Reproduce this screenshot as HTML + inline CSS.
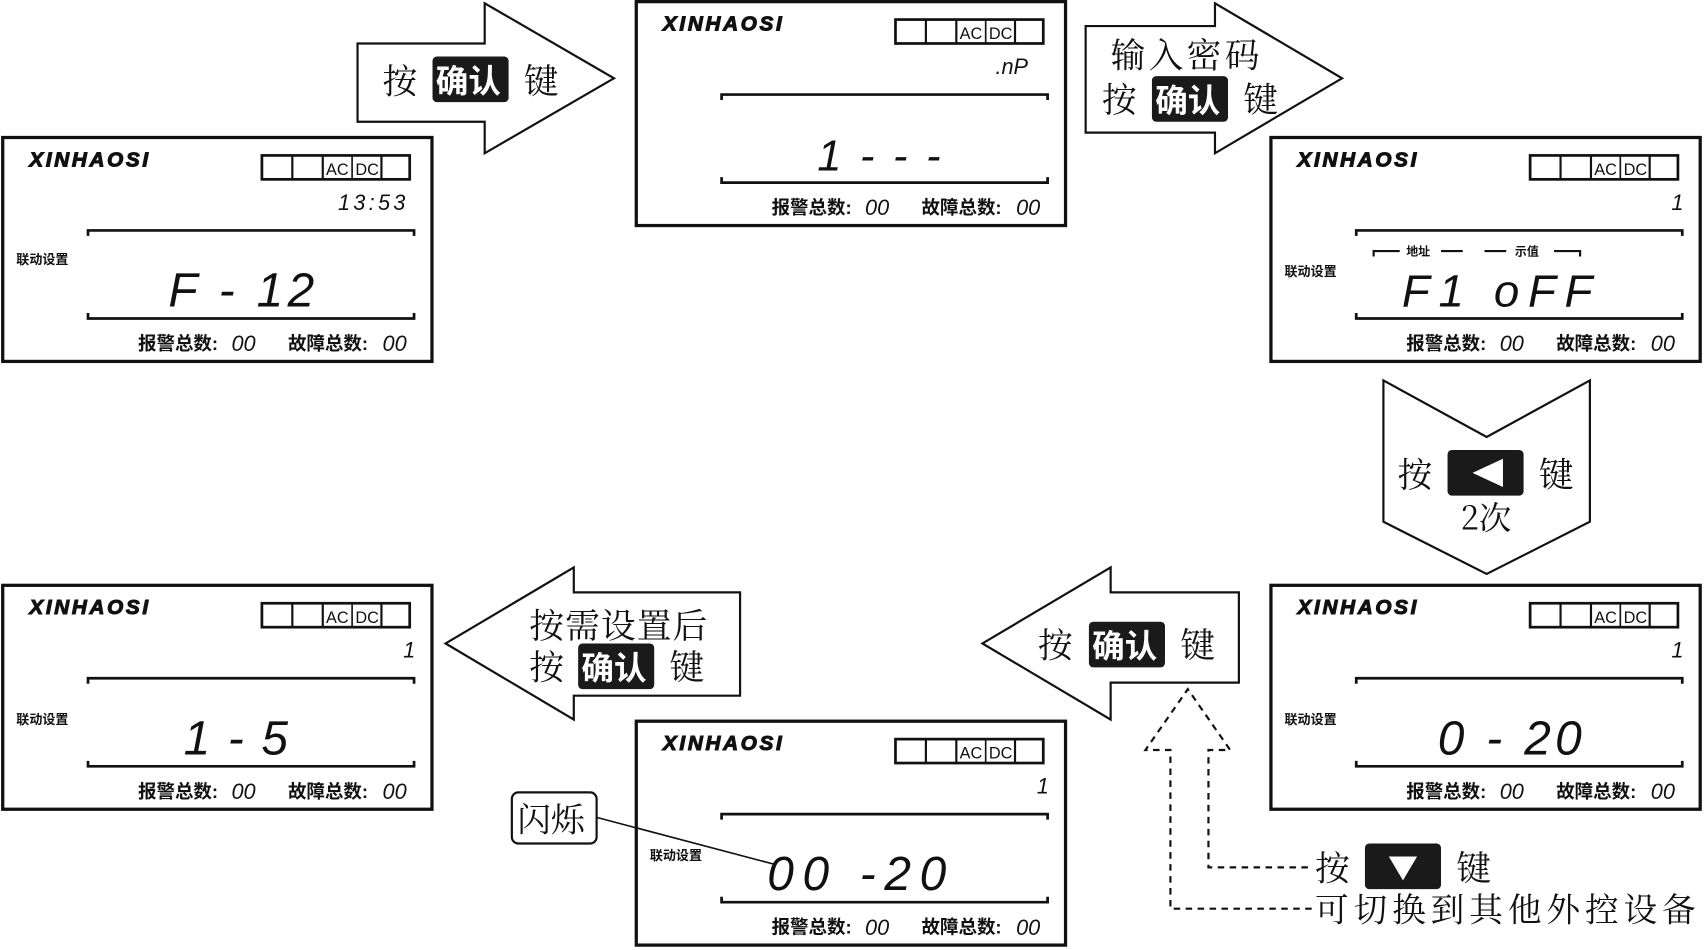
<!DOCTYPE html>
<html><head><meta charset="utf-8"><style>
html,body{margin:0;padding:0;background:#fff;width:1704px;height:950px;overflow:hidden}
svg{display:block}
text{font-family:"Liberation Sans","Noto Sans CJK SC",sans-serif;fill:#111}
.cn{font-family:"Noto Serif CJK SC","Liberation Serif",serif}
.lcd{font-style:italic;font-family:"Liberation Sans",sans-serif}
</style></head><body>
<svg width="1704" height="950" viewBox="0 0 1568 874" preserveAspectRatio="none">
<defs>
<g id="panel">
<rect x="1.5" y="1.5" width="395" height="206" fill="#fff" stroke="#111" stroke-width="3"/>
<text x="26" y="28" font-size="19" font-weight="bold" font-style="italic" letter-spacing="2.5" stroke="#111" stroke-width="1">XINHAOSI</text>
<rect x="240" y="18" width="136" height="22" fill="none" stroke="#111" stroke-width="2.5"/>
<line x1="268" y1="18" x2="268" y2="40" stroke="#111" stroke-width="2"/>
<line x1="296" y1="18" x2="296" y2="40" stroke="#111" stroke-width="2"/>
<line x1="323" y1="18" x2="323" y2="40" stroke="#111" stroke-width="1.5"/>
<line x1="350" y1="18" x2="350" y2="40" stroke="#111" stroke-width="2"/>
<text x="299" y="36" font-size="15">AC</text>
<text x="326" y="36" font-size="15">DC</text>
<polyline points="80,92 80,87 380,87 380,92" fill="none" stroke="#111" stroke-width="2.5"/>
<polyline points="80,163 80,168 380,168 380,163" fill="none" stroke="#111" stroke-width="2.5"/>
<text x="126" y="197" font-size="17" font-weight="bold">报警总数:</text>
<text x="212" y="198" font-size="20" class="lcd">00</text>
<text x="264" y="197" font-size="17" font-weight="bold">故障总数:</text>
<text x="351" y="198" font-size="20" class="lcd">00</text>
</g>
</defs>

<!-- P1 -->
<g transform="translate(1,125)"><use href="#panel"/>
<text x="310" y="68" font-size="20" class="lcd" letter-spacing="3">13:53</text>
<text x="14" y="118" font-size="12" font-weight="bold">联动设置</text>
<text x="154" y="157" font-size="44" class="lcd" letter-spacing="4">F - 12</text></g>
<!-- P2 -->
<g transform="translate(584,0)"><use href="#panel"/>
<text x="332" y="68" font-size="20" class="lcd">.nP</text>
<text x="168" y="157" font-size="40" class="lcd" letter-spacing="3">1 - - -</text></g>
<!-- P3 -->
<g transform="translate(1168,125)"><use href="#panel"/>
<text x="370" y="68" font-size="20" class="lcd">1</text>
<polyline points="96,111 96,106 120,106" fill="none" stroke="#111" stroke-width="2"/>
<line x1="158" y1="106" x2="178" y2="106" stroke="#111" stroke-width="2"/>
<polyline points="198,106 218,106" fill="none" stroke="#111" stroke-width="2"/>
<polyline points="262,106 286,106 286,111" fill="none" stroke="#111" stroke-width="2"/>
<text x="126" y="110" font-size="11" font-weight="bold">地址</text>
<text x="226" y="110" font-size="11" font-weight="bold">示值</text>
<text x="14" y="129" font-size="12" font-weight="bold">联动设置</text>
<text x="122" y="157" font-size="42" class="lcd" letter-spacing="8">F1 oFF</text></g>
<!-- P4 -->
<g transform="translate(1168,537)"><use href="#panel"/>
<text x="370" y="68" font-size="20" class="lcd">1</text>
<text x="14" y="129" font-size="12" font-weight="bold">联动设置</text>
<text x="155" y="157" font-size="44" class="lcd" letter-spacing="4">0 - 20</text></g>
<!-- P5 -->
<g transform="translate(584,662)"><use href="#panel"/>
<text x="370" y="68" font-size="20" class="lcd">1</text>
<text x="14" y="129" font-size="12" font-weight="bold">联动设置</text>
<text x="122" y="157" font-size="44" class="lcd" letter-spacing="8">00 -20</text></g>
<!-- P6 -->
<g transform="translate(1,537)"><use href="#panel"/>
<text x="370" y="68" font-size="20" class="lcd">1</text>
<text x="14" y="129" font-size="12" font-weight="bold">联动设置</text>
<text x="168" y="157" font-size="44" class="lcd" letter-spacing="2">1 - 5</text></g>

<!-- Arrow 1 -->
<polygon points="329,40 446,40 446,3 565,72 446,141 446,112 329,112" fill="#fff" stroke="#111" stroke-width="2"/>
<text x="352" y="86" font-size="32" class="cn">按</text>
<rect x="398" y="52" width="70" height="42" rx="4" fill="#1a1a1a"/>
<text x="401" y="85" font-size="30" font-weight="bold" style="fill:#fff">确认</text>
<text x="482" y="86" font-size="32" class="cn">键</text>
<!-- Arrow 2 -->
<polygon points="999,24 1118,24 1118,3 1235,72 1118,141 1118,122 999,122" fill="#fff" stroke="#111" stroke-width="2"/>
<text x="1022" y="62" font-size="32" class="cn" letter-spacing="3">输入密码</text>
<text x="1014" y="103" font-size="32" class="cn">按</text>
<rect x="1060" y="70" width="70" height="42" rx="4" fill="#1a1a1a"/>
<text x="1063" y="103" font-size="30" font-weight="bold" style="fill:#fff">确认</text>
<text x="1144" y="103" font-size="32" class="cn">键</text>
<!-- Arrow 3 down -->
<polygon points="1273,350 1368,402 1463,350 1463,480 1368,528 1273,480" fill="#fff" stroke="#111" stroke-width="2"/>
<text x="1286" y="448" font-size="32" class="cn">按</text>
<rect x="1332" y="414" width="70" height="42" rx="4" fill="#1a1a1a"/>
<polygon points="1383,422 1383,448 1355,435" fill="#fff"/>
<text x="1416" y="448" font-size="32" class="cn">键</text>
<text x="1344" y="487" font-size="30" class="cn">2次</text>
<!-- Arrow 4 left -->
<polygon points="1140,545 1022,545 1022,522 904,592 1022,662 1022,628 1140,628" fill="#fff" stroke="#111" stroke-width="2"/>
<text x="955" y="605" font-size="32" class="cn">按</text>
<rect x="1002" y="572" width="70" height="42" rx="4" fill="#1a1a1a"/>
<text x="1005" y="605" font-size="30" font-weight="bold" style="fill:#fff">确认</text>
<text x="1086" y="605" font-size="32" class="cn">键</text>
<!-- Arrow 5 left -->
<polygon points="681,545 528,545 528,522 410,592 528,662 528,640 681,640" fill="#fff" stroke="#111" stroke-width="2"/>
<text x="487" y="587" font-size="32" class="cn" letter-spacing="1">按需设置后</text>
<text x="487" y="625" font-size="32" class="cn">按</text>
<rect x="532" y="592" width="70" height="42" rx="4" fill="#1a1a1a"/>
<text x="535" y="625" font-size="30" font-weight="bold" style="fill:#fff">确认</text>
<text x="616" y="625" font-size="32" class="cn">键</text>
<!-- Dashed arrow -->
<g fill="none" stroke="#111" stroke-width="2" stroke-dasharray="6,5">
<polyline points="1207,836 1077,836 1077,690 1054,690 1093,634 1132,690 1112,690 1112,798 1207,798"/>
</g>
<text x="1210" y="810" font-size="32" class="cn">按</text>
<rect x="1256" y="776" width="70" height="42" rx="4" fill="#1a1a1a"/>
<polygon points="1278,788 1304,788 1291,810" fill="#fff"/>
<text x="1340" y="810" font-size="32" class="cn">键</text>
<text x="1210" y="848" font-size="31" class="cn" letter-spacing="4.5">可切换到其他外控设备</text>
<!-- 闪烁 -->
<rect x="471" y="729" width="78" height="47" rx="6" fill="#fff" stroke="#111" stroke-width="2"/>
<text x="476" y="765" font-size="31" class="cn">闪烁</text>
<line x1="549" y1="752" x2="712" y2="795" stroke="#111" stroke-width="1.5"/>
</svg>
</body></html>
